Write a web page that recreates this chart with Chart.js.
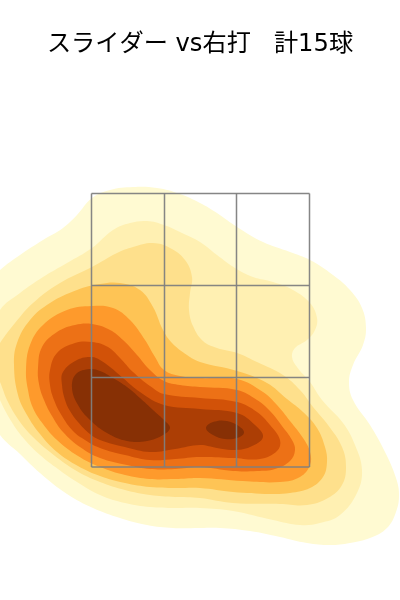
<!DOCTYPE html>
<html>
<head>
<meta charset="utf-8">
<script src="https://cdn.jsdelivr.net/npm/chart.js@4"></script>
<style>
  html, body { margin: 0; padding: 0; background: #fff; }
  canvas { display: block; }
</style>
</head>
<body>
<canvas id="myChart" width="400" height="600"></canvas>
<script>
const titleText = 'スライダー vs右打   計15球';

// strike zone lines
const zoneX = [91.5, 164.5, 236.5, 309.5];
const zoneY = [193.5, 285.5, 377.5, 467];

// density contours, outermost first
const contour1 = [[-30,350],[-20,290],[0,270],[20,255],[43,240],[63,228],[77,215],[92,198],[110,190],[133,187],[157,188],[180,194],[200,203],[217,213],[237,227],[263,242],[290,252],[310,260],[333,275],[350,290],[362,308],[366,328],[363,345],[353,365],[349,382],[353,400],[370,425],[385,452],[396,478],[399,495],[396,512],[387,528],[370,538],[350,543],[330,545],[307,543],[280,537],[250,531],[220,528],[200,528],[173,528],[147,525],[120,518],[93,508],[67,494],[40,473],[20,454],[0,435],[-20,400]];
const contour2 = [[-20,350],[0,310],[20,293],[43,277],[67,263],[92,248],[113,230],[130,223],[147,221],[164,225],[182,233],[200,242],[217,255],[235,268],[253,277],[273,282],[293,290],[310,303],[317,318],[315,330],[307,340],[295,348],[292,357],[297,367],[310,382],[322,400],[343,423],[355,445],[362,470],[357,493],[340,515],[320,523],[300,525],[273,520],[233,511],[200,508],[175,508],[150,507],[125,503],[100,495],[77,482],[58,469],[40,455],[25,440],[13,424],[0,400]];
const contour3 = [[-10,360],[0,343],[15,323],[33,303],[60,283],[92,267],[117,253],[133,247],[153,243],[170,248],[185,260],[192,277],[190,293],[189,310],[193,326],[203,341],[217,348],[237,353],[257,362],[283,375],[300,390],[313,407],[328,425],[342,447],[346,467],[342,485],[328,498],[307,505],[280,504],[233,503],[200,498],[175,497],[150,495],[125,490],[100,482],[75,470],[50,452],[33,437],[20,422],[8,402],[0,382]];
const contour4 = [[14,365],[17,343],[30,320],[50,303],[77,290],[100,284],[120,283],[140,290],[153,307],[163,330],[172,343],[187,355],[200,362],[237,371],[267,383],[287,399],[303,412],[317,428],[325,447],[327,462],[323,477],[310,488],[290,493],[270,494],[233,492],[200,488],[175,488],[150,487],[125,483],[100,476],[78,466],[57,452],[40,434],[27,415],[18,395]];
const contour5 = [[26,370],[30,345],[43,325],[67,310],[92,306],[113,308],[130,320],[145,340],[155,357],[164,370],[180,376],[200,378],[237,379],[263,392],[277,405],[290,421],[303,438],[310,452],[310,465],[300,477],[280,482],[243,481],[200,478],[175,479],[150,479],[125,475],[100,467],[78,456],[57,440],[43,424],[33,408],[28,390]];
const contour6 = [[38,368],[42,347],[57,332],[75,325],[92,324],[110,330],[123,340],[137,355],[150,370],[164,381],[180,385],[200,387],[237,390],[257,400],[270,411],[282,426],[292,440],[295,450],[290,461],[275,469],[257,471],[233,471],[200,467],[175,469],[150,469],[127,465],[100,458],[80,447],[63,432],[52,416],[44,400],[39,384]];
const contour7 = [[50,370],[57,353],[75,343],[92,342],[108,347],[120,358],[133,372],[150,386],[164,394],[200,398],[237,402],[257,412],[270,425],[280,440],[277,451],[260,459],[233,458],[200,457],[175,459],[150,460],[125,455],[100,448],[85,440],[73,431],[62,416],[54,400],[50,385]];
const contour8 = [[63,372],[77,360],[92,357],[100,360],[110,367],[123,378],[140,392],[164,405],[200,409],[237,413],[255,425],[263,437],[250,447],[233,450],[217,448],[200,445],[175,449],[150,452],[125,447],[100,440],[90,434],[78,422],[70,411],[65,400],[62,385]];
const contour9 = [[72,388],[76,374],[90,369],[100,371],[113,378],[127,387],[140,398],[153,410],[165,421],[170,428],[163,435],[147,441],[127,441],[107,433],[90,420],[78,405]];
const contour9b = [[206,428],[213,422],[227,421],[240,427],[244,433],[237,438],[225,439],[213,435]];

const levels = [contour1, contour2, contour3, contour4, contour5, contour6, contour7, contour8, contour9, contour9b];
const levelColors = ['#fffad2', '#fff0b2', '#fee08c', '#fec455', '#fe9a2c', '#ed7116', '#d25208', '#ac3e05', '#873005', '#873005'];

const zoneColor = 'rgba(128, 128, 128, 0.95)';

// run past the start by a couple of points so the curve closes without a cusp
function toPoints(pairs) {
  const pts = pairs.map(function (p) { return { x: p[0], y: p[1] }; });
  pts.push(pts[0], pts[1], pts[2]);
  return pts;
}

const datasets = [];

// datasets listed first are drawn on top, so the zone goes first
zoneX.forEach(function (x) {
  datasets.push({
    data: [{ x: x, y: zoneY[0] }, { x: x, y: zoneY[3] }],
    borderColor: zoneColor, borderWidth: 1.5, tension: 0, fill: false
  });
});
zoneY.forEach(function (y) {
  datasets.push({
    data: [{ x: zoneX[0], y: y }, { x: zoneX[3], y: y }],
    borderColor: zoneColor, borderWidth: 1.5, tension: 0, fill: false
  });
});

for (let i = levels.length - 1; i >= 0; i--) {
  datasets.push({
    data: toPoints(levels[i]),
    borderWidth: 0,
    borderColor: levelColors[i],
    backgroundColor: levelColors[i],
    fill: 'shape',
    tension: 0.4,
    capBezierPoints: false
  });
}

const ctx = document.getElementById('myChart').getContext('2d');

new Chart(ctx, {
  type: 'scatter',
  data: { datasets: datasets },
  options: {
    responsive: false,
    animation: false,
    showLine: true,
    pointRadius: 0,
    layout: { padding: 0 },
    elements: { point: { radius: 0 } },
    plugins: {
      legend: { display: false },
      tooltip: { enabled: false },
      title: {
        display: true,
        text: titleText,
        color: '#000',
        font: { family: '"DejaVu Sans", "Noto Sans CJK JP"', size: 24.2, weight: 'normal', lineHeight: 1.2396694 },
        padding: { top: 30, bottom: 4 }
      }
    },
    scales: {
      x: { type: 'linear', min: 0, max: 400, display: false },
      y: { type: 'linear', min: 64, max: 600, reverse: true, display: false }
    }
  }
});
</script>
</body>
</html>
